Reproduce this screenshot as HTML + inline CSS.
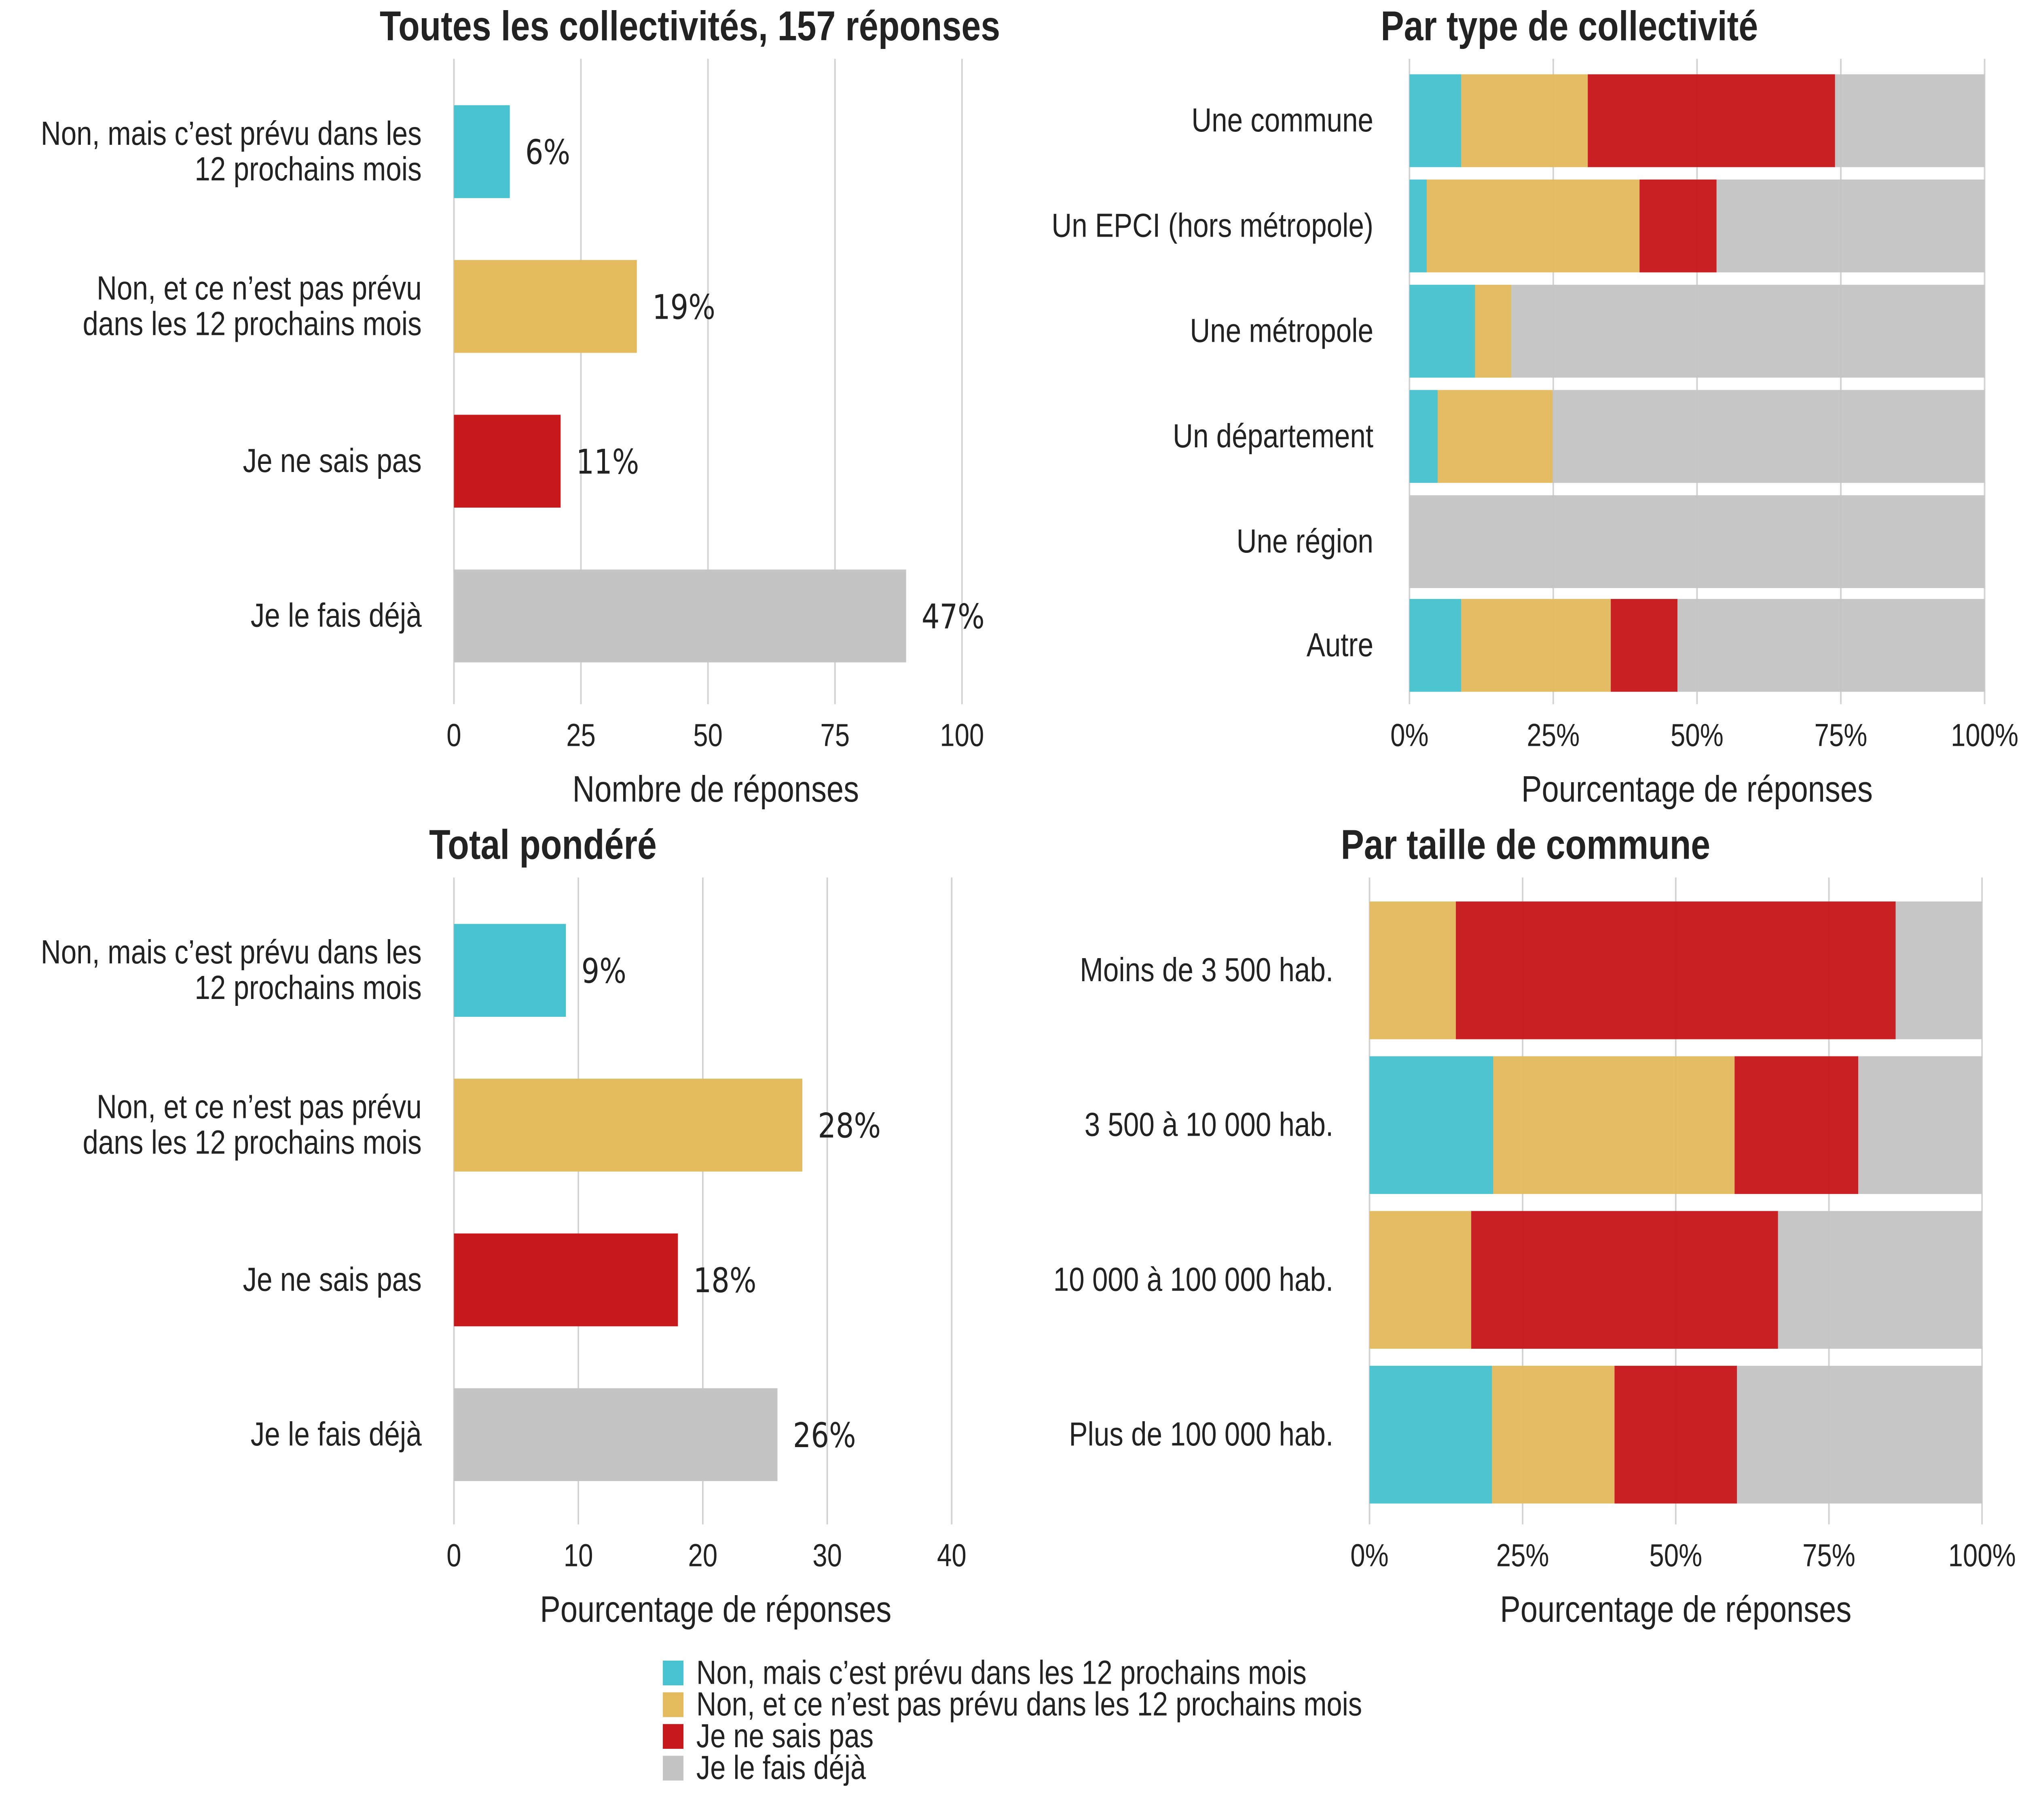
<!DOCTYPE html>
<html><head><meta charset="utf-8"><style>
html,body{margin:0;padding:0;background:#fff;width:100%;height:100%;overflow:hidden}
svg{display:block;position:fixed;left:0;top:0;width:100vw;height:100vh}
text{font-family:"Liberation Sans","DejaVu Sans",sans-serif;fill:#222}
</style></head><body>
<svg id="chart" viewBox="0 0 1568 1176" preserveAspectRatio="none" xmlns="http://www.w3.org/2000/svg"></svg>
<script>
const colors = ["#48C2CF","#E3BA5E","#C7191C","#C4C4C4"];
const answerLabels = ["Non, mais c’est prévu dans les 12 prochains mois","Non, et ce n’est pas prévu dans les 12 prochains mois","Je ne sais pas","Je le fais déjà"];
const leftCats = [["Non, mais c’est prévu dans les","12 prochains mois"],["Non, et ce n’est pas prévu","dans les 12 prochains mois"],["Je ne sais pas"],["Je le fais déjà"]];
const allCounts = [11,36,21,89];
const allPctLabels = ["6%","19%","11%","47%"];
const allTicks = [0,25,50,75,100];
const weightedPct = [9,28,18,26];
const weightedLabels = ["9%","28%","18%","26%"];
const weightedTicks = [0,10,20,30,40];
const typeCats = ["Une commune","Un EPCI (hors métropole)","Une métropole","Un département","Une région","Autre"];
const typeCyan = [9,3,11.4,4.9,0,9];
const typeYellow = [22,37,6.3,20,0,26];
const typeRed = [43,13.4,0,0,0,11.6];
const typeGrey = [26,46.6,82.3,75.1,100,53.4];
const sizeCats = ["Moins de 3 500 hab.","3 500 à 10 000 hab.","10 000 à 100 000 hab.","Plus de 100 000 hab."];
const sizeCyan = [0,20.2,0,20];
const sizeYellow = [14.1,39.4,16.6,20];
const sizeRed = [71.8,20.2,50.1,20];
const sizeGrey = [14.1,20.2,33.3,40];
const pctTicks = [0,25,50,75,100];
const pctTickLabels = ["0%","25%","50%","75%","100%"];

const svg = document.getElementById('chart');
const NS = "http://www.w3.org/2000/svg";
function el(tag, attrs, parent){const e=document.createElementNS(NS,tag);for(const k in attrs)e.setAttribute(k,attrs[k]);(parent||svg).appendChild(e);return e;}
function txt(s, attrs, parent){const e=el('text',attrs,parent);e.textContent=s;return e;}

function simplePanel(name, title, titleX, axisX, x0, x1, maxV, top, bottom, centers, vals, labels, ticks, axisTitle){
  const g = el('g',{});
  
  
  const sx = v => x0 + (x1-x0)*v/maxV;
  ticks.forEach((t,i)=>{
    const l = el('line',{x1:sx(t),x2:sx(t),y1:top,y2:bottom,stroke:"#d2d2d2","stroke-width":1.2},g);
    
    
    const tl = txt(String(t),{x:sx(t),y:bottom+27,"text-anchor":"middle","font-size":20.5},g);
    
    
  });
  vals.forEach((v,i)=>{
    const r = el('rect',{x:x0,y:centers[i]-30,width:sx(v)-x0,height:60,fill:colors[i]},g);
    
    
    const vl = txt(labels[i],{x:sx(v)+12,y:centers[i]+8,"font-size":22,style:"font-family:'DejaVu Sans',sans-serif"},g);
    
    
    const lines = leftCats[i];
    lines.forEach((s,j)=>{
      const y = centers[i]+7 + (j-(lines.length-1)/2)*23;
      const c = txt(s,{x:x0-25,y:y,"text-anchor":"end","font-size":21.7},g);
      
      
    });
  });
  const at = txt(axisTitle,{x:axisX,y:bottom+63,"text-anchor":"middle","font-size":23.8},g);
  
  
  const tt = txt(title,{x:titleX,y:top-12,"text-anchor":"middle","font-size":27,"font-weight":"bold"},g);
  
  
}

function stackPanel(name, title, titleX, x0, x1, top, bottom, centers, h, cats, series){
  const g = el('g',{});
  
  
  const sx = v => x0 + (x1-x0)*v/100;
  pctTicks.forEach((t,i)=>{
    const l = el('line',{x1:sx(t),x2:sx(t),y1:top,y2:bottom,stroke:"#d2d2d2","stroke-width":1.2},g);
    
    
    const tl = txt(pctTickLabels[i],{x:sx(t),y:bottom+27,"text-anchor":"middle","font-size":20.5},g);
    
    
  });
  cats.forEach((c,i)=>{
    let acc=0;
    series.forEach((s,k)=>{
      const v=s[i];
      if(v>0){
        const r = el('rect',{x:sx(acc),y:centers[i]-h/2,width:sx(acc+v)-sx(acc),height:h,fill:colors[k],"fill-opacity":0.97},g);
        
        
      }
      acc+=v;
    });
    const cl = txt(c,{x:x0-28,y:centers[i]+7,"text-anchor":"end","font-size":21.7},g);
    
    
  });
  const at = txt("Pourcentage de réponses",{x:(x0+x1)/2,y:bottom+63,"text-anchor":"middle","font-size":23.8},g);
  
  
  const tt = txt(title,{x:titleX,y:top-12,"text-anchor":"middle","font-size":27,"font-weight":"bold"},g);
  
  
}

simplePanel('all-responses-panel',"Toutes les collectivités, 157 réponses",535,555,352,746,100,38,455,[98,198,298,398],allCounts,allPctLabels,allTicks,"Nombre de réponses");
simplePanel('weighted-total-panel',"Total pondéré",421,555,352,738,40,567,985,[627,727,827,927],weightedPct,weightedLabels,weightedTicks,"Pourcentage de réponses");
stackPanel('by-type-panel',"Par type de collectivité",1217,1093,1539,38,455,[78,146,214,282,350,417],60,typeCats,[typeCyan,typeYellow,typeRed,typeGrey]);
stackPanel('by-size-panel',"Par taille de commune",1183,1062,1537,567,985,[627,727,827,927],89,sizeCats,[sizeCyan,sizeYellow,sizeRed,sizeGrey]);

const lg = el('g',{});


answerLabels.forEach((s,i)=>{
  const y = 1073 + i*20.5;
  const sq = el('rect',{x:514,y:y,width:16,height:16,fill:colors[i]},lg);
  
  
  const t = txt(s,{x:540,y:y+15,"font-size":21.5},lg);
  
  
});
</script>
</body></html>
